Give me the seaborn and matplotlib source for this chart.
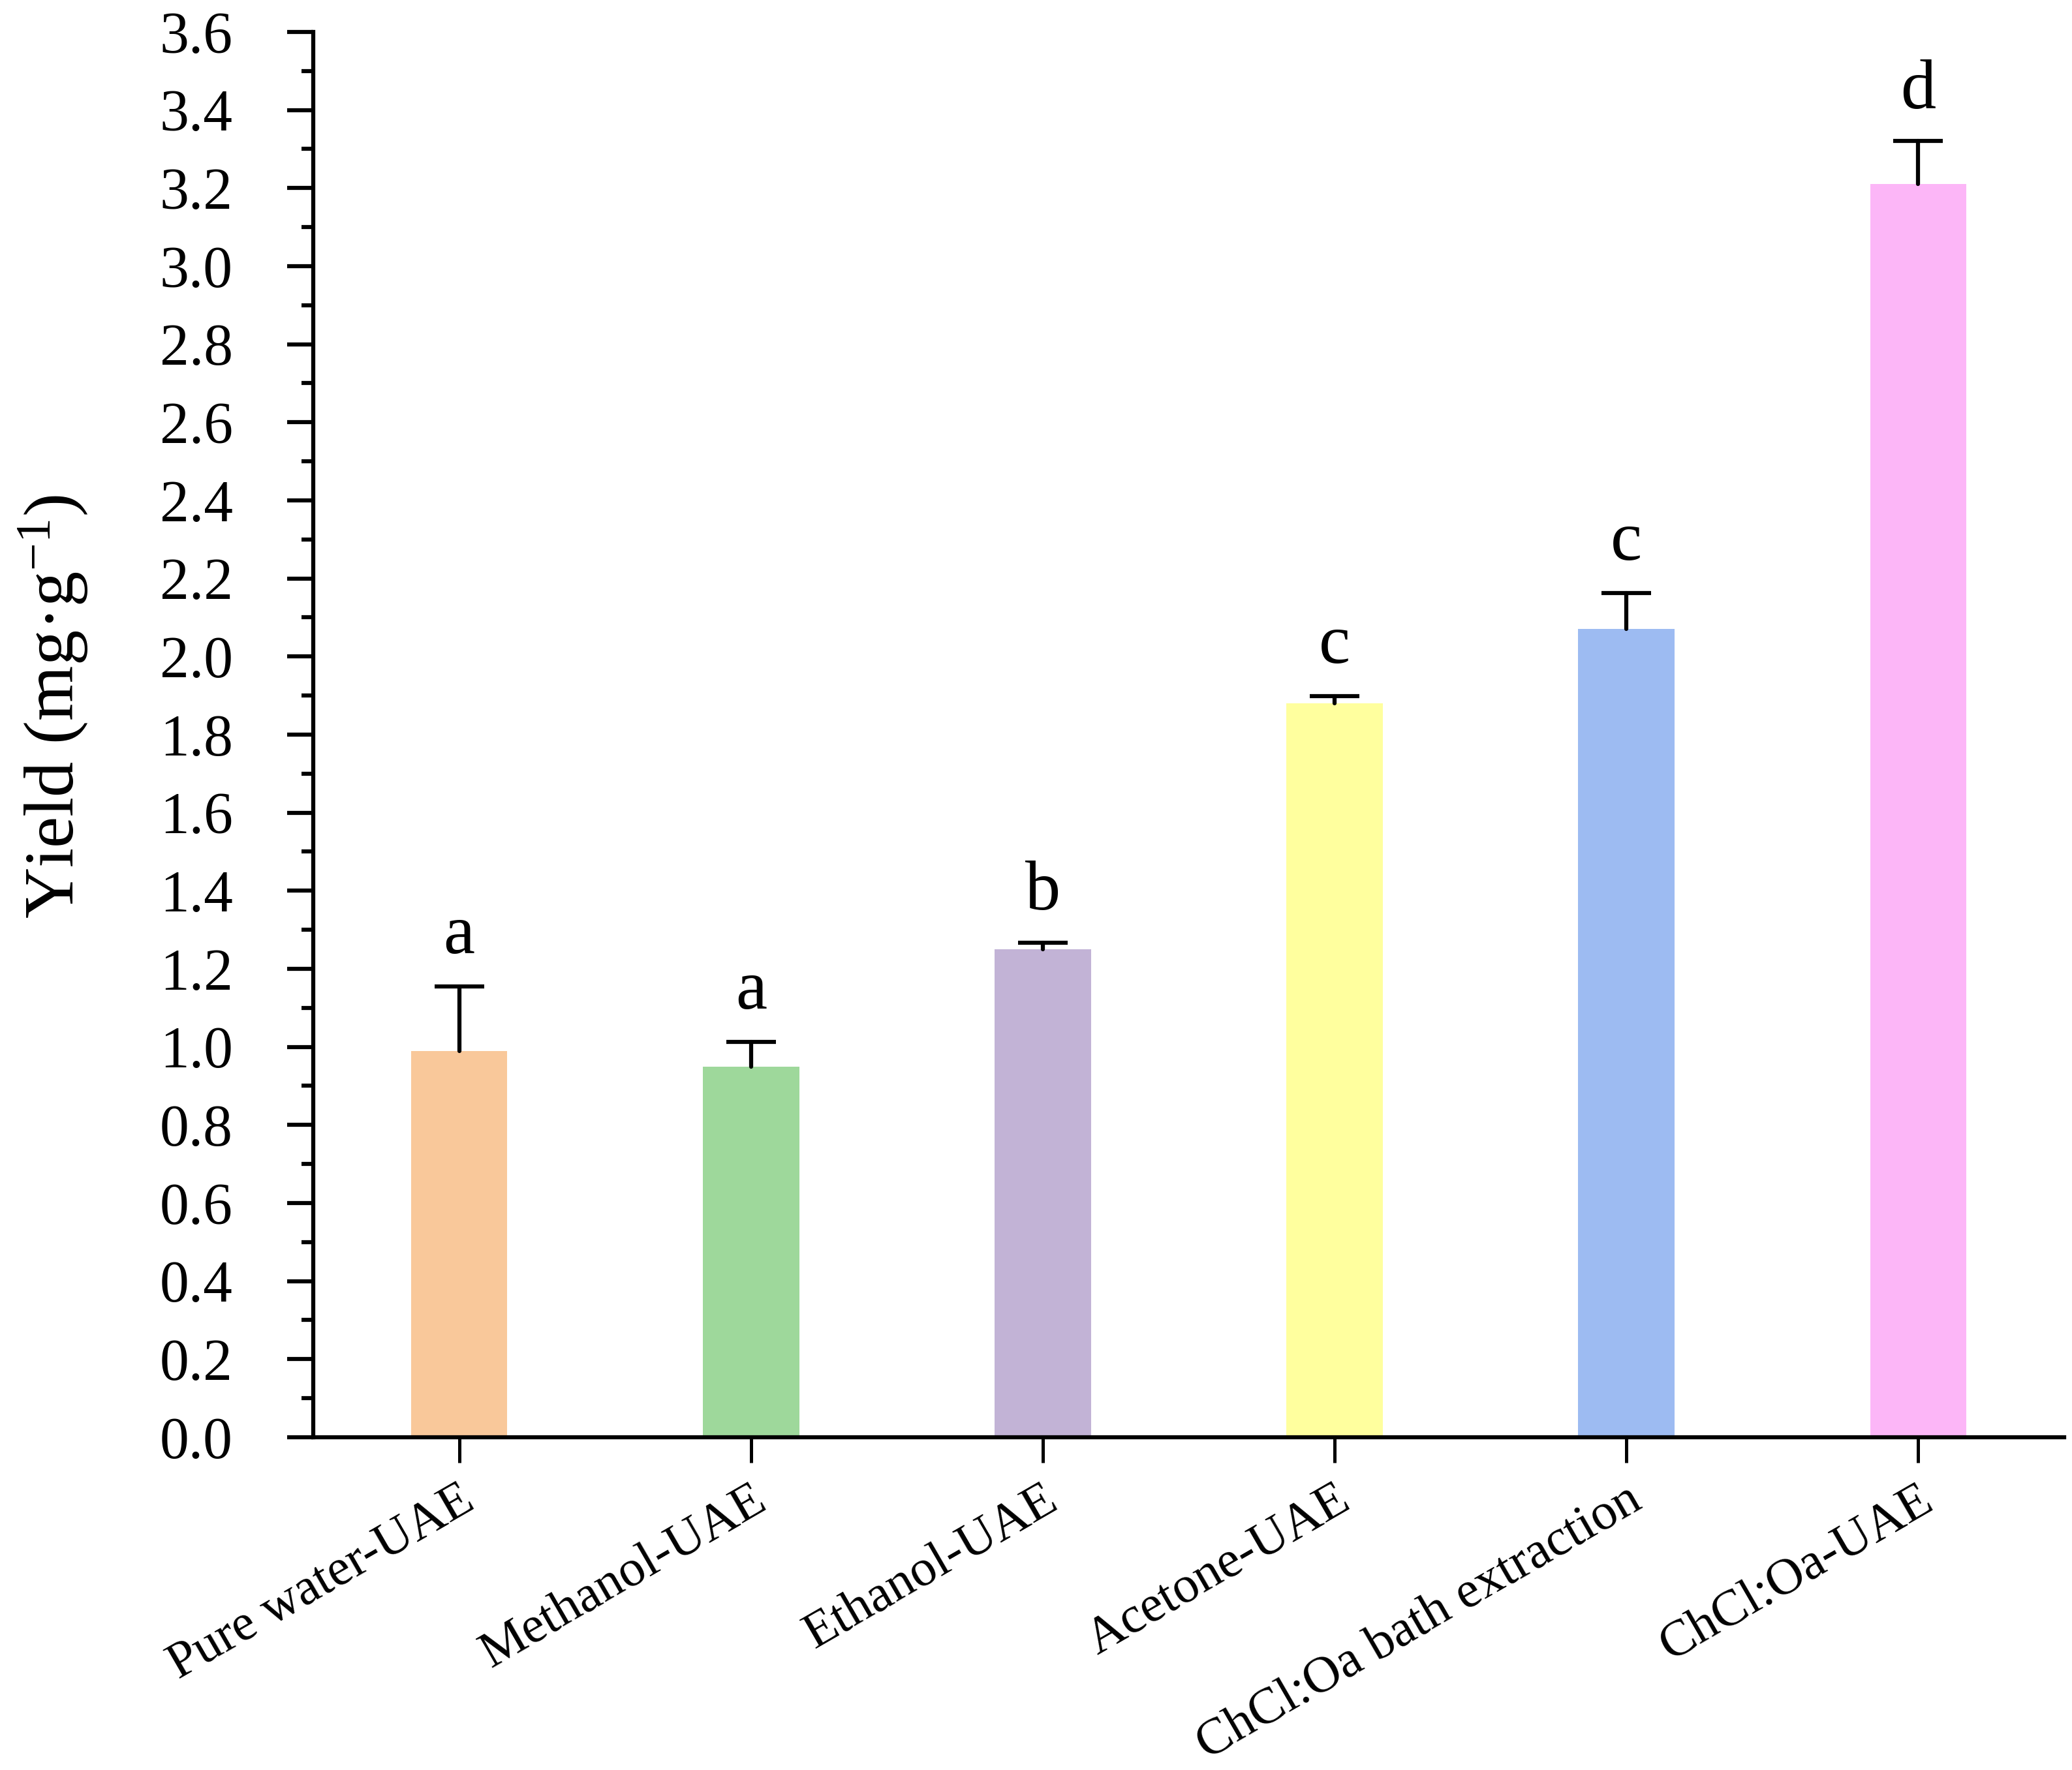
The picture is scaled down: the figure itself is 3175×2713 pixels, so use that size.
import matplotlib
matplotlib.use('Agg')
import matplotlib.pyplot as plt
import seaborn as sns
import pandas as pd
import numpy as np
from matplotlib.ticker import MultipleLocator

# ---- data ----
categories = ["Pure water-UAE", "Methanol-UAE", "Ethanol-UAE", "Acetone-UAE",
              "ChCl:Oa bath extraction", "ChCl:Oa-UAE"]
yield_mean = [0.99, 0.95, 1.25, 1.88, 2.07, 3.21]
yield_sd = [0.165, 0.063, 0.017, 0.018, 0.092, 0.11]
sig_letters = ["a", "a", "b", "c", "c", "d"]
bar_colors = ["#F9C89A", "#9ED89B", "#C2B3D6", "#FFFF9E", "#9DBBF2", "#FCB6F7"]
y_ticks = [0.0, 0.2, 0.4, 0.6, 0.8, 1.0, 1.2, 1.4, 1.6, 1.8,
           2.0, 2.2, 2.4, 2.6, 2.8, 3.0, 3.2, 3.4, 3.6]
y_tick_labels = ["%.1f" % v for v in y_ticks]

sns.set_style('ticks')
plt.rcParams['font.family'] = ['Liberation Serif', 'DejaVu Serif']
plt.rcParams['mathtext.fontset'] = 'custom'
plt.rcParams['mathtext.rm'] = 'Liberation Serif'
plt.rcParams['mathtext.it'] = 'Liberation Serif:italic'
plt.rcParams['mathtext.default'] = 'regular'
for k in ['text.color', 'axes.labelcolor', 'xtick.color', 'ytick.color', 'axes.edgecolor']:
    plt.rcParams[k] = 'black'

fig = plt.figure(figsize=(3175 / 300, 2713 / 300), dpi=300)
ax = fig.add_axes([0.1512, 0.188, 0.845, 0.794])

df = pd.DataFrame({'cat': categories, 'y': yield_mean, 'sd': yield_sd})
sns.barplot(data=df, x='cat', y='y', hue='cat', palette=bar_colors, legend=False,
            width=0.33, errorbar=None, ax=ax, linewidth=0, saturation=1)

xpos = np.arange(len(categories))
eb = ax.errorbar(xpos, df['y'], yerr=[np.zeros(len(categories)), df['sd']], fmt='none',
                 ecolor='black', elinewidth=1.5, capsize=9.2, capthick=1.5, zorder=3)
# show only the upper cap
caplines = eb[1]
if len(caplines) >= 2:
    caplines[0].set_visible(False)
for cl in caplines:
    cl.set_solid_capstyle('round')
for lc in eb[2]:
    lc.set_capstyle('round')

for i, (m, s, lab) in enumerate(zip(yield_mean, yield_sd, sig_letters)):
    ax.text(i, m + s + 0.085, lab, ha='center', va='baseline', fontsize=26)

ax.set_xlim(-0.5, 5.5)
ax.set_ylim(0, 3.6)
ax.set_yticks(y_ticks)
ax.set_yticklabels(y_tick_labels)
ax.yaxis.set_minor_locator(MultipleLocator(0.1))

ax.tick_params(axis='y', which='major', length=9.6, width=1.5, labelsize=21.5, pad=20)
ax.tick_params(axis='y', which='minor', length=4.3, width=1.5)
ax.tick_params(axis='x', which='major', length=9.4, width=1.2, labelsize=19, pad=5)
ax.tick_params(axis='x', which='minor', bottom=False)

for lab in ax.get_xticklabels():
    lab.set_rotation(30)
    lab.set_ha('right')
    lab.set_rotation_mode('anchor')

sns.despine(ax=ax)
for sp in ['left', 'bottom']:
    ax.spines[sp].set_linewidth(1.5)

ax.set_xlabel('')
ax.set_ylabel('Yield (mg·g$^{-1}$)', fontsize=26)
ax.yaxis.set_label_coords(-0.128, 0.52)

fig.savefig('out.png', dpi=300)
